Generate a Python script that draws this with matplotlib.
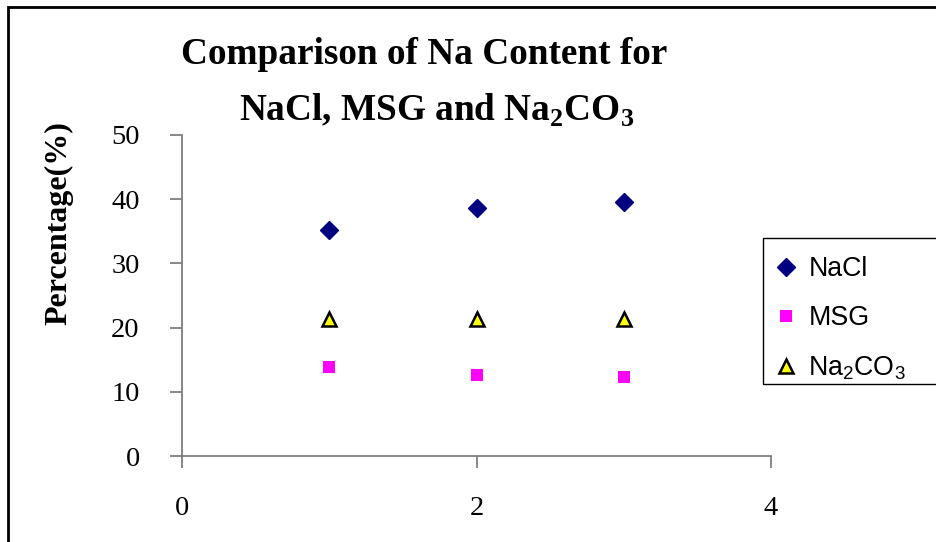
import matplotlib.pyplot as plt
from matplotlib.patches import Rectangle

# sample number vs sodium content (%)
samples = [1, 2, 3]
nacl = [35.2, 38.7, 39.6]
msg = [13.9, 12.6, 12.35]
na2co3 = [21.4, 21.4, 21.4]

x_ticks = [0, 2, 4]
y_ticks = [0, 10, 20, 30, 40, 50]

serif = ['Liberation Serif', 'DejaVu Serif']
sans = ['Liberation Sans', 'DejaVu Sans']

fig = plt.figure(figsize=(9.36, 5.42), dpi=100)
ax = fig.add_axes([182/936, 1-456/542, (771-182)/936, (456-135)/542])

ax.plot(samples, nacl, linestyle='none', marker='D', markersize=9.5,
        color='#000080', label='NaCl')
ax.plot(samples, msg, linestyle='none', marker='s', markersize=8.5,
        color='#FF00FF', markeredgewidth=0, label='MSG')
ax.plot(samples, na2co3, linestyle='none', marker='^', markersize=9.5,
        markerfacecolor='#FFFF00', markeredgecolor='black', markeredgewidth=1.8,
        label='Na$_\\mathregular{2}$CO$_\\mathregular{3}$')

ax.set_xlim(0, 4)
ax.set_ylim(0, 50)
ax.set_xticks(x_ticks)
ax.set_yticks(y_ticks)

for side in ['top', 'right']:
    ax.spines[side].set_visible(False)
for side in ['left', 'bottom']:
    ax.spines[side].set_color('#7f7f7f')
    ax.spines[side].set_linewidth(1.3)
ax.tick_params(direction='out', length=8.5, width=1.3, color='#7f7f7f', pad=22)
ax.tick_params(axis='x', pad=20)
for lbl in ax.get_xticklabels() + ax.get_yticklabels():
    lbl.set_family(serif)
    lbl.set_fontsize(20.5)

ax.set_ylabel('Percentage(%)', family=serif, fontsize=23, fontweight='bold')
ax.yaxis.set_label_coords(-0.185, 0.725)

fig.text(424/936, 1-55/542, 'Comparison of Na Content for', family=serif,
         fontsize=26.8, fontweight='bold', ha='center', va='center')
fig.text(437/936, 1-110/542, 'NaCl, MSG and Na$_\\mathregular{2}$CO$_\\mathregular{3}$',
         family=serif, fontsize=26.8, fontweight='bold', ha='center', va='center')

leg = ax.legend(loc='upper left', bbox_to_anchor=(763/936, 1-384/542, 0.2, (384-238)/542),
                bbox_transform=fig.transFigure, mode='expand', borderaxespad=0,
                frameon=False, prop={'family': sans, 'size': 19.3},
                handlelength=0.35, handletextpad=0.66, labelspacing=0.86, borderpad=0.68)

# legend box, drawn on its own so it runs off the right edge
fig.patches.append(Rectangle((763/936, 1-384/542), 0.3, (384-238)/542, transform=fig.transFigure,
                             fill=False, edgecolor='black', linewidth=1.0))

# outer chart border
fig.patches.append(Rectangle((8/936, -0.05), 1.0, 1.05 - 7/542, transform=fig.transFigure,
                             fill=False, edgecolor='black', linewidth=2.0))

fig.savefig('out.png', dpi=100)
